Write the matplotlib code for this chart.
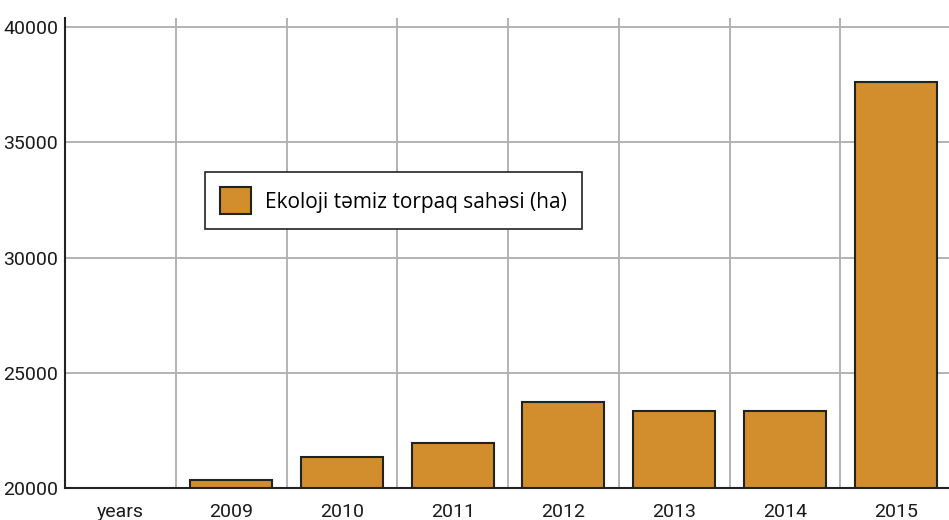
import numpy as np
import matplotlib
matplotlib.use("Agg")
import matplotlib.pyplot as plt

# data
categories = ["years", "2009", "2010", "2011", "2012", "2013", "2014", "2015"]
values = [np.nan, 20350, 21350, 21950, 23730, 23340, 23340, 37610]
yticks = [20000, 25000, 30000, 35000, 40000]
series_name = "Ekoloji təmiz torpaq sahəsi (ha)"

tick_font = ["Roboto", "DejaVu Sans"]
legend_font = ["Open Sans", "DejaVu Sans"]

fig = plt.figure(figsize=(9.49, 5.2), dpi=100)
ax = fig.add_axes([65 / 949, 32 / 520, 886 / 949, 470.2 / 520])

x = np.arange(len(categories))
ax.bar(x, values, width=0.74, color="#D28E2C", edgecolor="#222222",
       linewidth=1.5, label=series_name, zorder=3)

ax.set_xlim(-0.5, len(categories) - 0.5)
ax.set_ylim(20000, 40400)

ax.set_yticks(yticks)
ax.set_yticklabels([str(v) for v in yticks], family=tick_font, fontsize=14, color="#1a1a1a")
ax.set_xticks(x)
ax.set_xticklabels(categories, family=tick_font, fontsize=14, color="#1a1a1a")
ax.set_xticks(x[:-1] + 0.5, minor=True)

ax.tick_params(axis="both", which="both", length=0)
ax.tick_params(axis="y", pad=5)
ax.tick_params(axis="x", pad=11)

# grid: horizontal at y ticks, vertical between categories
ax.grid(axis="y", which="major", color="#aeaeae", linewidth=1.3, zorder=0)
ax.grid(axis="x", which="minor", color="#aeaeae", linewidth=1.3, zorder=0)
ax.set_axisbelow(True)

for s in ["top", "right"]:
    ax.spines[s].set_visible(False)
for s in ["left", "bottom"]:
    ax.spines[s].set_color("#222222")
    ax.spines[s].set_linewidth(1.5)
    ax.spines[s].set_zorder(4)

leg = ax.legend(loc="upper left", bbox_to_anchor=(0.158, 0.672), borderaxespad=0,
                fancybox=False, edgecolor="#222222", framealpha=1,
                prop={"family": legend_font, "size": 15},
                handlelength=1.5, handleheight=1.65, handletextpad=0.65,
                borderpad=0.72)
leg.get_frame().set_linewidth(1.2)

fig.savefig("out.png", dpi=100)
